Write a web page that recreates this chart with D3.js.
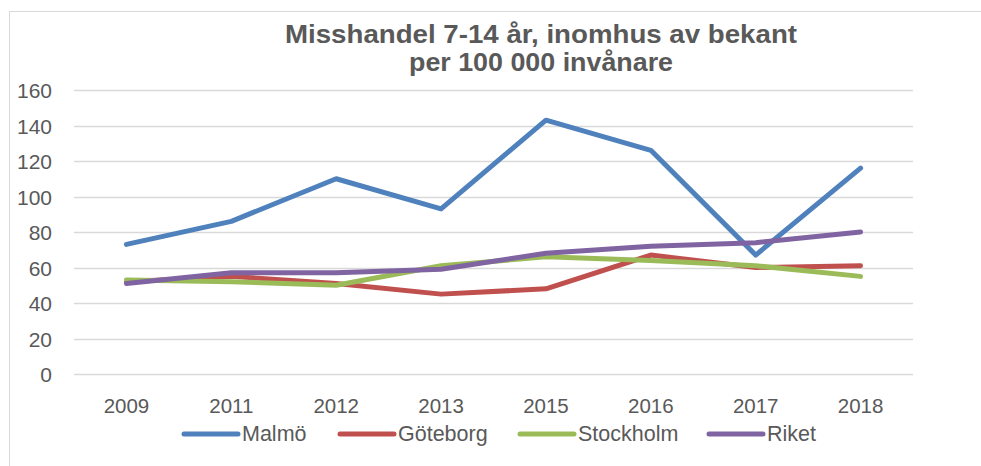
<!DOCTYPE html>
<html>
<head>
<meta charset="utf-8">
<script src="https://cdn.jsdelivr.net/npm/d3@7"></script>
<style>
  body { margin: 0; background: #fff; }
  svg { display: block; font-family: "Liberation Sans", Arial, sans-serif; }
</style>
</head>
<body>
<div id="chart"></div>
<script>
// chart data
var years = ["2009", "2011", "2012", "2013", "2015", "2016", "2017", "2018"];
var malmo = [73, 86, 110, 93, 143, 126, 67, 116];
var goteborg = [52, 55, 51, 45, 48, 67, 60, 61];
var stockholm = [53, 52, 50, 61, 66, 64, 61, 55];
var riket = [51, 57, 57, 59, 68, 72, 74, 80];
var seriesNames = ["Malmö", "Göteborg", "Stockholm", "Riket"];
var yTicks = [0, 20, 40, 60, 80, 100, 120, 140, 160];
var titleLines = ["Misshandel 7-14 år, inomhus av bekant", "per 100 000 invånare"];

var colors = ["#4f81bd", "#c0504d", "#9bbb59", "#8064a2"];
var series = [malmo, goteborg, stockholm, riket].map(function(vals, i) {
  return { name: seriesNames[i], color: colors[i], values: vals };
});

var width = 981, height = 466;
var margin = { top: 90, left: 74, right: 68, bottom: 92 };

var svg = d3.select("#chart").append("svg")
  .attr("width", width)
  .attr("height", height);

// outer chart border
svg.append("rect")
  .attr("x", 9.5).attr("y", 11.5)
  .attr("width", width).attr("height", height)
  .attr("fill", "none")
  .attr("stroke", "#d9d9d9")
  .attr("stroke-width", 1);

var x = d3.scaleBand()
  .domain(years)
  .range([margin.left, width - margin.right]);

var y = d3.scaleLinear()
  .domain([0, 160])
  .range([height - margin.bottom, margin.top]);

// gridlines
svg.append("g")
  .selectAll("line")
  .data(yTicks)
  .enter().append("line")
    .attr("x1", margin.left)
    .attr("x2", width - margin.right)
    .attr("y1", function(d) { return Math.round(y(d)) + 0.5; })
    .attr("y2", function(d) { return Math.round(y(d)) + 0.5; })
    .attr("stroke", "#d9d9d9")
    .attr("stroke-width", 1.3);

// y axis labels
var yAxis = d3.axisLeft(y).tickValues(yTicks).tickSize(0).tickPadding(0);
var gy = svg.append("g")
  .attr("transform", "translate(52,0)")
  .call(yAxis);
gy.select(".domain").remove();
gy.selectAll("text")
  .attr("fill", "#595959")
  .style("font-family", "'Liberation Sans', Arial, sans-serif")
  .style("font-size", "21px")
  .attr("dy", "0.36em");

// x axis labels
var xAxis = d3.axisBottom(x).tickSize(0).tickPadding(0);
var gx = svg.append("g")
  .attr("transform", "translate(0,413)")
  .call(xAxis);
gx.select(".domain").remove();
gx.selectAll("text")
  .attr("fill", "#595959")
  .style("font-family", "'Liberation Sans', Arial, sans-serif")
  .style("font-size", "20.5px")
  .attr("dy", "0");

// lines
var line = d3.line()
  .x(function(d, i) { return x(years[i]) + x.bandwidth() / 2; })
  .y(function(d) { return y(d); });

svg.append("g")
  .selectAll("path")
  .data(series)
  .enter().append("path")
    .attr("d", function(s) { return line(s.values); })
    .attr("fill", "none")
    .attr("stroke", function(s) { return s.color; })
    .attr("stroke-width", 5)
    .attr("stroke-linejoin", "round")
    .attr("stroke-linecap", "round");

// title
var titleY = [43, 71];
var titleW = [512, 264];
svg.append("g")
  .selectAll("text")
  .data(titleLines)
  .enter().append("text")
    .attr("x", 541)
    .attr("y", function(d, i) { return titleY[i]; })
    .attr("text-anchor", "middle")
    .attr("textLength", function(d, i) { return titleW[i]; })
    .attr("lengthAdjust", "spacingAndGlyphs")
    .attr("fill", "#595959")
    .style("font-weight", "bold")
    .style("font-size", "26px")
    .text(function(d) { return d; });

// legend
var legendX = [184, 340, 520, 709];
var legend = svg.append("g")
  .selectAll("g")
  .data(series)
  .enter().append("g")
    .attr("transform", function(d, i) { return "translate(" + legendX[i] + ",434)"; });
legend.append("line")
  .attr("x1", 0).attr("x2", 54)
  .attr("stroke", function(d) { return d.color; })
  .attr("stroke-width", 5)
  .attr("stroke-linecap", "round");
legend.append("text")
  .attr("x", 58)
  .attr("y", 7)
  .attr("fill", "#595959")
  .style("font-size", "21.5px")
  .text(function(d) { return d.name; });
</script>
</body>
</html>
